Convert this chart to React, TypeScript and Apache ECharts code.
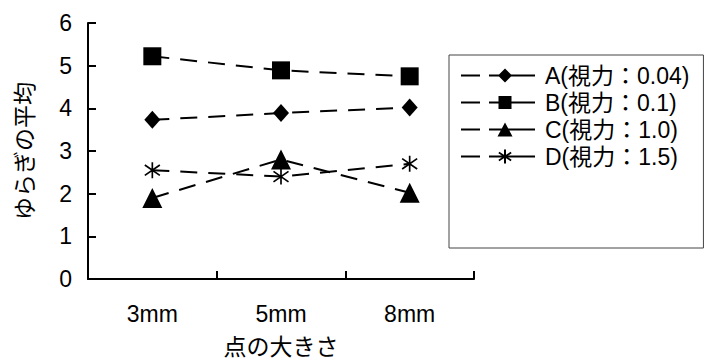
import React, { useEffect, useRef } from "react";
import * as echarts from "echarts";

const categories = ["3mm", "5mm", "8mm"];
const seriesNames = ["A(視力：0.04)", "B(視力：0.1)", "C(視力：1.0)", "D(視力：1.5)"];
const valuesA = [3.73, 3.89, 4.02];
const valuesB = [5.22, 4.89, 4.75];
const valuesC = [1.9, 2.8, 2.02];
const valuesD = [2.55, 2.4, 2.7];
const yTicks = { min: 0, max: 6, interval: 1 };
const yName = "ゆらぎの平均";
const xName = "点の大きさ";

const ASTERISK =
  "path://M9,0 L11,0 L11,20 L9,20 Z M1.585,2.69 L19.585,15.69 L18.415,17.31 L0.415,4.31 Z M0.415,15.69 L18.415,2.69 L19.585,4.31 L1.585,17.31 Z";

// legend icons: 74 x 16 box, dashes + marker centred at x=44
const LEG_BASE =
  "M0,7 L19,7 L19,9 L0,9 Z M28,7 L74,7 L74,9 L28,9 Z M0,0 L0.001,0 L0,0 Z M74,16 L73.999,16 L74,16 Z ";
const legIcons = [
  "path://" + LEG_BASE + "M37,8 L44,1 L51,8 L44,15 Z",
  "path://" + LEG_BASE + "M37.5,1.5 L50.5,1.5 L50.5,14.5 L37.5,14.5 Z",
  "path://" + LEG_BASE + "M44,1 L51.5,15 L36.5,15 Z",
  "path://" +
    LEG_BASE +
    "M43,1 L45,1 L45,15 L43,15 Z M38.3,3.2 L50.6,11.2 L49.7,12.8 L37.4,4.8 Z M37.4,11.2 L49.7,3.2 L50.6,4.8 L38.3,12.8 Z",
];

const FONT = "'Liberation Sans', Arial, 'Noto Sans CJK JP', sans-serif";
const FS = 23;

export default function App() {
  const ref = useRef<HTMLDivElement>(null);
  useEffect(() => {
    if (!ref.current) return;
    const chart = echarts.init(ref.current, undefined, { renderer: "svg" });
    const lineStyle = { color: "#000", width: 2, type: [17, 11] as any };
    const mk = (name: string, data: number[], symbol: string, size: any) => ({
      name,
      type: "line",
      data,
      symbol,
      symbolSize: size,
      itemStyle: { color: "#000" },
      lineStyle,
    });
    chart.setOption({
      animation: false,
      backgroundColor: "#fff",
      textStyle: { fontFamily: FONT, color: "#000" },
      grid: { left: 88, right: 238, top: 23, bottom: 79, containLabel: false, outerBoundsMode: "none" } as any,
      xAxis: {
        type: "category",
        data: categories,
        boundaryGap: true,
        name: xName,
        nameLocation: "middle",
        nameGap: 56,
        nameTextStyle: { fontSize: FS, color: "#000", fontFamily: FONT },
        axisLine: { lineStyle: { color: "#000", width: 2 } },
        axisTick: { show: true, inside: true, length: 8, interval: 0, lineStyle: { color: "#000", width: 2 } },
        axisLabel: { fontSize: FS, color: "#000", margin: 23, fontFamily: FONT },
        splitLine: { show: false },
      },
      yAxis: {
        type: "value",
        min: yTicks.min,
        max: yTicks.max,
        interval: yTicks.interval,
        name: yName,
        nameLocation: "middle",
        nameRotate: 90,
        nameGap: 52,
        nameTextStyle: { fontSize: FS, color: "#000", fontFamily: FONT },
        axisLine: { show: true, lineStyle: { color: "#000", width: 2 } },
        axisTick: { show: true, inside: true, length: 8, lineStyle: { color: "#000", width: 2 } },
        axisLabel: { fontSize: FS, color: "#000", margin: 16, fontFamily: FONT },
        splitLine: { show: false },
      },
      legend: {
        orient: "vertical",
        left: 449,
        top: 55,
        padding: [9, 14, 80, 12],
        itemWidth: 74,
        itemHeight: 16,
        itemGap: 4,
        borderColor: "#444",
        borderWidth: 1,
        textStyle: { fontSize: FS, color: "#000", fontFamily: FONT, padding: [0, 0, 0, 5] },
        data: seriesNames.map((n, i) => ({ name: n, icon: legIcons[i] })),
      },
      series: [
        mk(seriesNames[0], valuesA, "diamond", [16, 18]),
        mk(seriesNames[1], valuesB, "rect", 18),
        mk(seriesNames[2], valuesC, "triangle", 20),
        mk(seriesNames[3], valuesD, ASTERISK, 16),
      ],
    });
    return () => chart.dispose();
  }, []);
  return <div ref={ref} style={{ width: 712, height: 358, position: "absolute", left: 0, top: 0 }} />;
}
